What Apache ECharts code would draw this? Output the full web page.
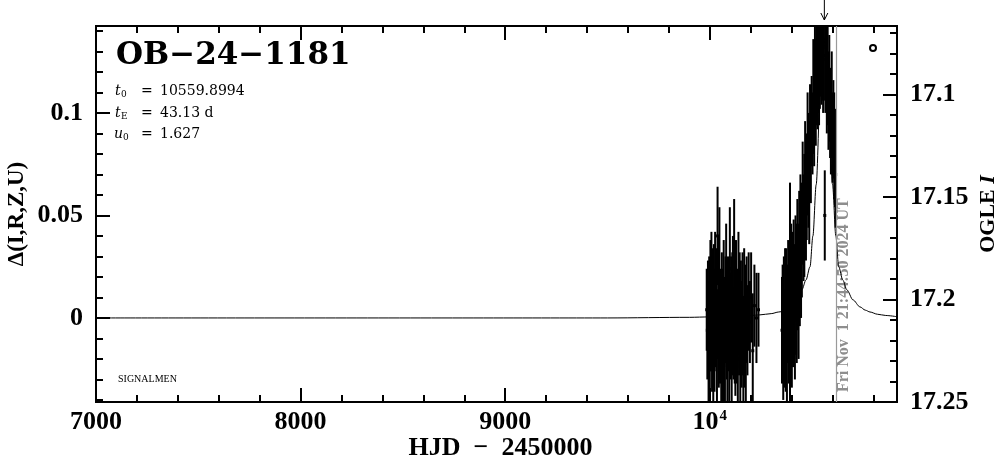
<!DOCTYPE html>
<html><head><meta charset="utf-8">
<script src="https://cdn.jsdelivr.net/npm/echarts@6/dist/echarts.min.js"></script>
<style>html,body{margin:0;padding:0;background:#fff}#c{width:999px;height:459px}</style>
</head><body><div id="c"></div>
<script>
// ---- axis ranges ----
const X_MIN = 7000, X_MAX = 10915;
const D_MIN = -0.041, D_MAX = 0.1424;
const I_TOP = 17.0666, I_BOTTOM = 17.25;
// ---- ticks / tick labels ----
const xMajor = [7000, 8000, 9000, 10000];
const xMinor = [7200,7400,7600,7800,8200,8400,8600,8800,9200,9400,9600,9800,10200,10400,10600,10800];
const dMajor = [0, 0.05, 0.1];
const dMinor = [-0.04,-0.03,-0.02,-0.01,0.01,0.02,0.03,0.04,0.06,0.07,0.08,0.09,0.11,0.12,0.13,0.14];
const iMajor = [17.1, 17.15, 17.2, 17.25];
const iMinor = [17.07,17.08,17.09,17.11,17.12,17.13,17.14,17.16,17.17,17.18,17.19,17.21,17.22,17.23,17.24];
// ---- event parameters ----
const T0 = 10559.8994, NOW = 10616.41;
const eventName = 'OB\u221224\u22121181';
const paramT0 = '10559.8994', paramTE = '43.13 d', paramU0 = '1.627';
const nowText = 'Fri Nov  1 21:44:50 2024 UT';
// ---- observations: HJD-2450000, delta mag, error ----
const obsT = [9985,9988,9991,9994,9997,10000,10003,10005,10008,10011,10014,10017,10020,10023,10026,10029,10032,10035,10038,10041,10044,10047,10050,10053,10056,10059,10062,10065,10068,10071,10074,10077,10080,10083,10086,10089,10092,10095,10098,10101,10104,10107,10110,10113,10116,10119,10122,10125,10128,10131,10134,10137,10140,10143,10146,10149,10152,10156,10160,10164,10168,10172,10176,10180,10184,10190,10196,10202,10210,10218,10228,10238,
10353,10356,10359,10362,10365,10368,10371,10374,10377,10380,10383,10386,10389,10392,10395,10398,10401,10404,10407,10410,10413,10416,10419,10422,10425,10428,10431,10434,10437,10440,10443,10446,10450,10454,10458,10462,10466,10470,10474,10478,10482,10486,10490,10494,10498,10502,10506,10510,10514,10518,10522,10526,10530,10534,10538,10542,10546,10550,10554,10558,10562,10565,10568,10572,10576,10580,10584,10588,10592,10596,10600,10604,10608,10612,10615];
const obsD = [0.004,-0.006,0.010,-0.012,0.002,-0.018,0.006,-0.004,0.012,-0.010,0.000,-0.020,0.008,-0.006,0.016,-0.002,0.004,-0.014,0.040,0.010,-0.008,0.022,-0.004,0.002,-0.016,0.006,-0.010,-0.022,0.010,-0.002,-0.012,0.004,0.018,-0.006,-0.016,0.008,0.000,-0.010,0.024,-0.004,0.006,-0.018,0.002,0.014,-0.008,0.030,-0.002,-0.014,0.008,-0.006,0.002,-0.020,0.012,-0.004,0.004,-0.012,0.006,-0.008,0.002,-0.016,0.010,-0.004,-0.010,0.004,-0.006,0.008,-0.002,0.010,-0.016,0.006,0.000,0.004,
-0.006,0.004,-0.014,0.000,-0.010,0.006,-0.004,0.008,-0.012,0.002,0.010,-0.006,0.006,0.012,
0.004,0.016,-0.006,0.010,0.002,0.018,0.008,0.000,0.024,0.014,0.006,0.028,0.020,0.012,0.034,0.026,0.044,0.030,
0.038,0.056,0.044,0.050,0.068,0.058,0.064,0.080,0.072,0.066,0.088,0.084,0.096,0.090,0.108,0.100,0.116,0.110,0.124,0.118,0.130,0.122,0.128,0.138,0.130,0.134,0.126,0.136,
0.050,0.128,0.132,0.116,0.122,0.106,0.112,0.100,0.094,0.104,0.088,0.092,0.084,0.078,0.070];
const obsE = [0.020,0.024,0.018,0.030,0.028,0.026,0.032,0.022,0.030,0.026,0.034,0.024,0.028,0.030,0.026,0.022,0.030,0.028,0.024,0.030,0.026,0.032,0.028,0.020,0.030,0.026,0.034,0.026,0.028,0.022,0.030,0.026,0.028,0.024,0.030,0.022,0.026,0.032,0.030,0.026,0.024,0.028,0.030,0.026,0.022,0.028,0.030,0.024,0.030,0.026,0.022,0.026,0.030,0.024,0.028,0.030,0.022,0.026,0.030,0.026,0.024,0.030,0.034,0.026,0.022,0.024,0.020,0.022,0.028,0.020,0.022,0.018,
0.026,0.022,0.026,0.030,0.024,0.028,0.032,0.026,0.030,0.024,0.028,0.026,0.030,0.054,0.026,0.030,0.028,0.032,0.026,0.030,0.028,0.030,0.026,0.032,0.028,0.030,0.026,0.032,0.028,0.030,0.026,0.030,0.028,0.030,0.026,0.030,0.028,0.030,0.026,0.030,0.028,0.030,0.026,0.028,0.022,0.020,0.028,0.026,0.030,0.026,0.030,0.026,0.030,0.028,0.026,0.030,0.026,0.028,0.026,0.030,0.022,0.028,0.030,0.026,0.028,0.024,0.026,0.022,0.024,0.026,0.022,0.024,0.026,0.024,0.026];
// ---- model curve ----
const modelT = [7000,9500,9900,10000,10100,10200,10245,10300,10337,10358,10386,10420,10450,10470,10490,10504,10520,10540,10560,10580,10600,10616,10630,10650,10670,10700,10734,10760,10783,10820,10860,10915];
const modelD = [0,0,0.0003,0.0005,0.0008,0.0012,0.0015,0.0021,0.0029,0.0032,0.0054,0.0088,0.0137,0.0185,0.025,0.040,0.065,0.110,0.135,0.110,0.065,0.040,0.025,0.0185,0.0137,0.0088,0.0054,0.0038,0.0029,0.0018,0.0012,0.0006];

const SERIF = '"Liberation Serif", "DejaVu Serif", serif';
const BLACK = '#000';

function axisCommon(extra) {
  return Object.assign({
    type: 'value', splitLine: {show: false}, nameMoveOverlap: false,
    axisLine: {show: true, onZero: false, lineStyle: {color: BLACK, width: 2}},
  }, extra);
}
function tickCfg(vals, len) {
  return {show: true, inside: true, length: len, customValues: vals, lineStyle: {color: BLACK, width: 2}};
}
const labelCfg = (vals, margin, fmt) => ({
  show: true, customValues: vals, margin: margin, color: BLACK,
  fontFamily: SERIF, fontSize: 26, fontWeight: 'bold', formatter: fmt,
  rich: {a: {fontFamily: SERIF, fontSize: 26, fontWeight: 'bold', color: BLACK},
         s: {fontFamily: SERIF, fontSize: 15, fontWeight: 'bold', color: BLACK, verticalAlign: 'top', padding: [0, 0, 0, 1]}}
});

const xAxes = [
  axisCommon({position: 'bottom', min: X_MIN, max: X_MAX, axisTick: tickCfg(xMajor, 14),
    axisLabel: labelCfg(xMajor, 7, v => v === 10000 ? '{a|10}{s|4}' : String(v)),
    name: 'HJD  \u2212  2450000', nameLocation: 'middle', nameGap: 33,
    nameTextStyle: {fontFamily: SERIF, fontSize: 26, fontWeight: 'bold', color: BLACK, padding: [0, 0, 0, 8]}}),
  axisCommon({position: 'bottom', min: X_MIN, max: X_MAX, axisTick: tickCfg(xMinor, 7), axisLabel: {show: false}}),
  axisCommon({position: 'top', min: X_MIN, max: X_MAX, axisTick: tickCfg(xMajor, 14), axisLabel: {show: false}}),
  axisCommon({position: 'top', min: X_MIN, max: X_MAX, axisTick: tickCfg(xMinor, 7), axisLabel: {show: false}})
];
const yAxes = [
  axisCommon({position: 'left', min: D_MIN, max: D_MAX, axisTick: tickCfg(dMajor, 14),
    axisLabel: labelCfg(dMajor, 13, v => String(v)),
    name: '\u0394(I,R,Z,U)', nameLocation: 'middle', nameGap: 67,
    nameTextStyle: {fontFamily: SERIF, fontSize: 23, fontWeight: 'bold', color: BLACK}}),
  axisCommon({position: 'left', min: D_MIN, max: D_MAX, axisTick: tickCfg(dMinor, 7), axisLabel: {show: false}}),
  axisCommon({position: 'right', inverse: true, min: I_TOP, max: I_BOTTOM, axisTick: tickCfg(iMajor, 14),
    axisLabel: labelCfg(iMajor, 13, v => String(v)),
    name: 'OGLE {i|I}', nameLocation: 'middle', nameGap: 80,
    nameTextStyle: {fontFamily: SERIF, fontSize: 22, fontWeight: 'bold', color: BLACK,
      rich: {i: {fontFamily: SERIF, fontSize: 22, fontWeight: 'bold', fontStyle: 'italic', color: BLACK}}}}),
  axisCommon({position: 'right', inverse: true, min: I_TOP, max: I_BOTTOM, axisTick: tickCfg(iMinor, 7), axisLabel: {show: false}})
];

const obsData = obsT.map((t, i) => [t, obsD[i], obsE[i]]);
const modelData = modelT.map((t, i) => [t, modelD[i]]);

const chart = echarts.init(document.getElementById('c'), null, {renderer: 'canvas'});
chart.setOption({
  animation: false,
  backgroundColor: '#fff',
  grid: {left: 96, right: 102, top: 26, bottom: 57, containLabel: false, outerBoundsMode: 'none'},
  xAxis: xAxes,
  yAxis: yAxes,
  series: [
    {type: 'line', xAxisIndex: 0, yAxisIndex: 0, data: modelData, showSymbol: false, symbol: 'none',
     smooth: 0.3, smoothMonotone: 'x', lineStyle: {color: BLACK, width: 1}, z: 2, silent: true,
     markLine: {silent: true, symbol: 'none', label: {show: false},
       lineStyle: {color: '#9a9a9a', width: 1.2, type: 'solid'}, data: [{xAxis: NOW}]}},
    {type: 'custom', xAxisIndex: 0, yAxisIndex: 0, data: obsData, clip: true, z: 3, silent: true,
     encode: {x: 0, y: 1},
     renderItem: function (params, api) {
       const t = api.value(0), d = api.value(1), e = api.value(2);
       const lo = Math.max(d - e, D_MIN), hi = Math.min(d + e, D_MAX);
       const p1 = api.coord([t, lo]), p2 = api.coord([t, hi]);
       const c = api.coord([t, Math.min(Math.max(d, D_MIN), D_MAX)]);
       return {type: 'group', children: [
         {type: 'line', shape: {x1: p1[0], y1: p1[1], x2: p2[0], y2: p2[1]}, style: {stroke: BLACK, lineWidth: 2}},
         {type: 'rect', shape: {x: c[0] - 1.5, y: c[1] - 1.5, width: 3, height: 3}, style: {fill: BLACK}}
       ]};
     }}
  ]
});

// annotations placed through the axis scales
const gx = v => chart.convertToPixel({xAxisIndex: 0}, v);
const gy = v => chart.convertToPixel({yAxisIndex: 0}, v);
const gTop = gy(D_MAX), gBottom = gy(D_MIN);
const gLeft = gx(X_MIN), gRight = gx(X_MAX);
const xa = gx(T0), xn = gx(NOW);
const txt = (x, y, text, font, extra) => Object.assign({type: 'text', x: x, y: y, silent: true,
  style: {text: text, font: font, fill: BLACK, align: 'left', verticalAlign: 'middle'}}, extra || {});
const pFont = '14px "DejaVu Serif", serif';
const pIt = 'italic 14px "DejaVu Serif", serif';
const pSub = '9px "DejaVu Serif", serif';
chart.setOption({
  graphic: [
    txt(gLeft + 20, gTop + 30, eventName, 'bold 31px "DejaVu Serif", serif'),
    txt(gLeft + 19, gTop + 65, 't', pIt), txt(gLeft + 25, gTop + 69, '0', pSub),
    txt(gLeft + 45, gTop + 65, '=', pFont), txt(gLeft + 64, gTop + 65, paramT0, pFont),
    txt(gLeft + 19, gTop + 87, 't', pIt), txt(gLeft + 25, gTop + 91, 'E', pSub),
    txt(gLeft + 45, gTop + 87, '=', pFont), txt(gLeft + 64, gTop + 87, paramTE, pFont),
    txt(gLeft + 18, gTop + 108, 'u', pIt), txt(gLeft + 27, gTop + 112, '0', pSub),
    txt(gLeft + 45, gTop + 108, '=', pFont), txt(gLeft + 64, gTop + 108, paramU0, pFont),
    txt(gLeft + 22, gBottom - 23, 'SIGNALMEN', '10px ' + SERIF),
    {type: 'text', x: xn + 8, y: gBottom - 10, rotation: Math.PI / 2, silent: true,
     style: {text: nowText, font: 'bold 16px ' + SERIF, fill: '#8e8e8e', align: 'left', verticalAlign: 'middle'}},
    {type: 'polyline', silent: true, shape: {points: [[xa, 0], [xa, gTop - 6]]}, style: {stroke: BLACK, lineWidth: 1}},
    {type: 'polyline', silent: true, shape: {points: [[xa - 3.5, gTop - 13], [xa, gTop - 6], [xa + 3.5, gTop - 13]]}, style: {stroke: BLACK, lineWidth: 1, fill: null}},
    {type: 'circle', silent: true, shape: {cx: gRight - 24, cy: gTop + 22, r: 3}, style: {stroke: BLACK, lineWidth: 2, fill: null}}
  ]
});
</script></body></html>
